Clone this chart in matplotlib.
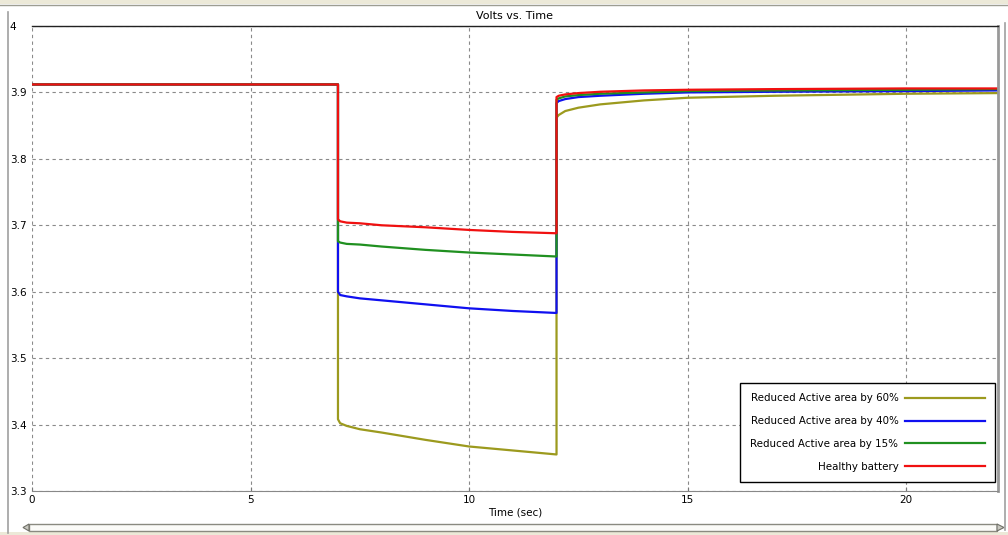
import matplotlib
matplotlib.use('Agg')
import matplotlib.pyplot as plt
from matplotlib.patches import Rectangle, Polygon
from matplotlib.lines import Line2D

# sample times (s): rest, load pulse from 7 s to 12 s, then recovery
time_s = [0, 7, 7, 7.05, 7.2, 7.5, 8, 9, 10, 11, 12,
          12, 12.05, 12.2, 12.5, 13, 14, 15, 17, 20, 22.1]

volts_60 = [3.912, 3.912, 3.408, 3.402, 3.398, 3.393, 3.388, 3.377, 3.367, 3.361, 3.355,
            3.862, 3.866, 3.872, 3.877, 3.882, 3.888, 3.892, 3.895, 3.898, 3.899]
volts_40 = [3.912, 3.912, 3.600, 3.595, 3.593, 3.590, 3.587, 3.581, 3.575, 3.571, 3.568,
            3.884, 3.887, 3.890, 3.893, 3.895, 3.898, 3.900, 3.901, 3.902, 3.903]
volts_15 = [3.912, 3.912, 3.676, 3.674, 3.672, 3.671, 3.668, 3.663, 3.659, 3.656, 3.653,
            3.889, 3.891, 3.894, 3.896, 3.898, 3.900, 3.902, 3.903, 3.904, 3.905]
volts_ok = [3.912, 3.912, 3.709, 3.706, 3.704, 3.703, 3.700, 3.697, 3.693, 3.690, 3.688,
            3.893, 3.895, 3.897, 3.899, 3.901, 3.903, 3.904, 3.905, 3.906, 3.906]

labels = ['Reduced Active area by 60%', 'Reduced Active area by 40%',
          'Reduced Active area by 15%', 'Healthy battery']
colors = ['#9c9a1e', '#1010f0', '#209020', '#f01010']

x_ticks = [0, 5, 10, 15, 20]
y_ticks = [3.3, 3.4, 3.5, 3.6, 3.7, 3.8, 3.9, 4]
y_tick_labels = ['3.3', '3.4', '3.5', '3.6', '3.7', '3.8', '3.9', '4']

plt.rcParams['font.family'] = ['DejaVu Sans']
fig = plt.figure(figsize=(10.08, 5.35), dpi=100)
ax = fig.add_axes([32 / 1008, 1 - 491 / 535, 966 / 1008, 465 / 535])

for v, lab, c in zip([volts_60, volts_40, volts_15, volts_ok], labels, colors):
    ax.plot(time_s, v, color=c, lw=1.6, label=lab)

ax.set_xlim(0, 22.1)
ax.set_ylim(3.3, 4.0)
ax.set_xticks(x_ticks)
ax.set_xticklabels([str(t) for t in x_ticks])
ax.set_yticks(y_ticks)
ax.set_yticklabels(y_tick_labels)
ax.grid(True, color='#8a8a8a', linestyle=(0, (3, 3)), linewidth=0.8)

ax.tick_params(axis='x', direction='in', length=3, width=0.8, color='#777777',
               labelsize=7.5, pad=3)
ax.tick_params(axis='y', length=0, labelsize=7.5, pad=16)
for lbl in ax.get_yticklabels():
    lbl.set_horizontalalignment('left')

ax.spines['left'].set_visible(False)
ax.spines['top'].set_color('#222222')
ax.spines['top'].set_linewidth(1.0)
ax.spines['bottom'].set_color('#888888')
ax.spines['right'].set_color('#999999')
ax.spines['right'].set_linewidth(2.0)

ax.set_title('Volts vs. Time', fontsize=8, pad=5)
ax.set_xlabel('Time (sec)', fontsize=7.5, labelpad=2)

leg = ax.legend(loc='lower right', bbox_to_anchor=(0.997, 0.019), borderaxespad=0,
                markerfirst=False, fontsize=7.4, handlelength=7.8, handletextpad=0.6,
                labelspacing=1.25, borderpad=1.0, fancybox=False, framealpha=1,
                edgecolor='black')
leg.get_frame().set_linewidth(1.0)

# window frame and scroll bar around the chart
fig.add_artist(Rectangle((0, 1 - 4 / 535), 1, 4 / 535, transform=fig.transFigure,
                         facecolor='#ece9d8', edgecolor='none'))
fig.add_artist(Line2D([0, 1], [1 - 4.5 / 535] * 2, transform=fig.transFigure,
                      color='#9d9d92', lw=1))
fig.add_artist(Line2D([8 / 1008] * 2, [2 / 535, 1 - 12 / 535], transform=fig.transFigure,
                      color='#a0a0a0', lw=1.2))
fig.add_artist(Line2D([1005 / 1008] * 2, [5 / 535, 1 - 23 / 535], transform=fig.transFigure,
                      color='#a0a0a0', lw=1.2))
fig.add_artist(Rectangle((0, 0), 1, 3 / 535, transform=fig.transFigure,
                         facecolor='#ece9d8', edgecolor='none'))
fig.add_artist(Rectangle((29 / 1008, 4 / 535), 968 / 1008, 7 / 535, transform=fig.transFigure,
                         facecolor='#fbfbf8', edgecolor='#8a8a80', lw=1))
fig.add_artist(Polygon([(23 / 1008, 7.5 / 535), (29 / 1008, 11 / 535), (29 / 1008, 4 / 535)],
                       closed=True, transform=fig.transFigure,
                       facecolor='#c8c8c0', edgecolor='#707068', lw=0.8))
fig.add_artist(Polygon([(1004 / 1008, 7.5 / 535), (997 / 1008, 11 / 535), (997 / 1008, 4 / 535)],
                       closed=True, transform=fig.transFigure,
                       facecolor='#c8c8c0', edgecolor='#707068', lw=0.8))

fig.savefig('out.png', dpi=100)
